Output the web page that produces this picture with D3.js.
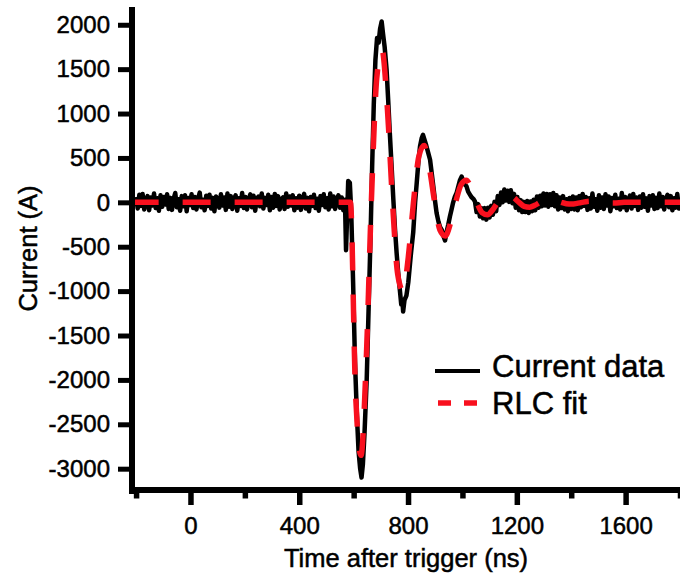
<!DOCTYPE html>
<html>
<head>
<meta charset="utf-8">
<script src="https://cdn.jsdelivr.net/npm/d3@7"></script>
<style>
  body { margin: 0; background: #fff; }
  svg text { font-family: "Liberation Sans", Arial, sans-serif; fill: #000; stroke: #000; stroke-width: 0.5px; }
</style>
</head>
<body>
<div id="chart"></div>
<script>
// baseline noise before the pulse, sampled every 6 ns from -200 ns
const preStart = -200;
const sampleStep = 6;
const preCurrent = [60, -70, 85, -40, 95, -80, 30, 70, -90, 55,
	-35, 100, -65, 45, -95, 80, -50, 60, -25, 90,
	-75, 50, -85, 40, 105, -55, 35, -95, 70, -45,
	80, -100, 50, -30, 90, -65, 60, -80, 40, 110,
	-55, 30, -90, 75, -40, 85, -70, 50, -100, 65,
	25, -60, 90, -35, 55, -85, 100, -50, 70, -75,
	35, 80, -95, 45, -40, 105, -65, 60, -80, 30,
	90, -55, 75, -95, 40, 65, -45, 100, -70, 50,
	-30, 85, -90, 60, -60, 95, -40, 70, -80, 35,
	55, -75, 100, -50, 65, -35, 80, -90, 45, -60,
	75, -85, 30, 95, -70, 50, -100, 60, -40, 85,
	-65, 40, -95, 70, -30, 90, -55, 45, -80, 100,
	-45, 65, -75, 35, 80, -60, 55, -90];

// the pulse itself (ns, A)
const pulseTime = [568, 572, 576, 580, 586, 591, 598, 605, 612, 618, 624, 629, 634, 640, 648, 655, 662, 668, 674, 680,
	686, 692, 697, 703, 708, 714, 721, 727, 733, 740, 746, 752, 758, 764, 770, 775, 779, 782, 787, 794,
	801, 810, 819, 826, 832, 838, 844, 850, 855, 861, 867, 874, 881, 887, 893, 899, 905, 912, 918, 924,
	930, 936, 942, 948, 954, 960, 966, 972, 979, 985, 991, 997, 1003, 1009, 1015, 1021, 1027, 1033, 1040];
const pulseCurrent = [30, -540, -150, 240, 220, -100, -900, -1800, -2400, -2800, -3000, -3100, -2950, -2600, -2000, -1200, -400, 400, 1100, 1600,
	1850, 1800, 1950, 2037, 1900, 1750, 1500, 1150, 780, 380, 30, -300, -570, -800, -990, -1150, -1100, -1230, -1100, -1050,
	-900, -600, -340, 0, 220, 450, 630, 720, 760, 700, 640, 560, 480, 330, 180, 20, -120, -220, -280, -310,
	-380, -430, -330, -250, -160, -80, 0, 60, 110, 180, 250, 290, 240, 200, 180, 120, 90, 60, 40];

// ringing tail + noise after the pulse, every 6 ns from 1046 ns
const postStart = 1046;
const postCurrent = [10, -110, -20, -160, -65, -180, -65, -195, -60, -170,
	-40, -140, 5, -100, 70, -30, 110, 0, 145, 20,
	130, 5, 135, -10, 95, -60, 60, -90, 25, -110,
	5, -110, 15, -120, 10, -100, 30, -90, 65, -60,
	75, -45, 100, -35, 95, -50, 90, -30, 105, -45,
	80, -80, 55, -65, 70, -80, 35, -100, 50, -75,
	65, -80, 55, -90, 70, -55, 95, -40, 60, -85,
	45, -70, 100, -50, 35, -95, 80, -60, 55, -75,
	90, -35, 65, -100, 50, -45, 85, -65, 40, -80,
	105, -55, 60, -90, 30, 75, -70, 95, -40, 55,
	-85, 65, -60, 90, -50, 45, -95, 70, -35, 80,
	-75, 50, -65, 100, -45, 60, -80, 35, 85, -55,
	70, -90, 45, -60, 95, -70, 50];

// RLC fit (ns, A)
const fitTime = [-220, 585, 588, 607, 627, 646, 665, 685, 704, 724, 743, 762, 782, 801, 820, 840, 859, 878, 898, 917,
	937, 956, 975, 995, 1014, 1033, 1053, 1072, 1092, 1111, 1130, 1150, 1169, 1188, 1208, 1227, 1247, 1266, 1285, 1305,
	1324, 1343, 1363, 1382, 1402, 1421, 1440, 1460, 1479, 1498, 1518, 1557, 1595, 1820];
const fitCurrent = [0, 0, 0, -2150, -2850, -1800, 0, 1400, 1720, 1060, 0, -810, -1000, -615, 0, 520, 640, 395, 0, -310,
	-380, -235, 0, 200, 250, 155, 0, -115, -140, -85, 0, 72, 90, 55, 0, -45, -55, -34, 0, 28,
	35, 21, 0, -16, -20, -12, 0, 10, 12, 7, 0, -7, 0, 0];

const xMajor = [0, 400, 800, 1200, 1600];
const xMinor = [-200, 200, 600, 1000, 1400, 1800];
const yTicks = [2000, 1500, 1000, 500, 0, -500, -1000, -1500, -2000, -2500, -3000];

const legendLabels = ['Current data', 'RLC fit'];

const width = 680;
const height = 586;
const font = '"Liberation Sans", Arial, sans-serif';

const x = d3.scaleLinear().domain([-215, 1800]).range([132, 680]);
const y = d3.scaleLinear().domain([-3240, 2200]).range([490, 7]);

// put the three pieces of the measured trace together
const trace = [];
preCurrent.forEach((v, i) => trace.push([preStart + i * sampleStep, v]));
pulseTime.forEach((t, i) => trace.push([t, pulseCurrent[i]]));
postCurrent.forEach((v, i) => trace.push([postStart + i * sampleStep, v]));

const fit = fitTime.map((t, i) => [t, fitCurrent[i]]);

const svg = d3.select('#chart').append('svg')
	.attr('width', width)
	.attr('height', height)
	.style('background', '#fff');

svg.append('clipPath').attr('id', 'plot-clip')
	.append('rect')
	.attr('x', 134).attr('y', 0)
	.attr('width', width - 134).attr('height', 488);

const plot = svg.append('g').attr('clip-path', 'url(#plot-clip)');

const line = d3.line().x((d) => x(d[0])).y((d) => y(d[1]));

plot.append('path')
	.datum(trace)
	.attr('fill', 'none')
	.attr('stroke', '#000')
	.attr('stroke-width', 4.5)
	.attr('stroke-linejoin', 'round')
	.attr('d', line);

plot.append('path')
	.datum(fit)
	.attr('fill', 'none')
	.attr('stroke', '#f8101e')
	.attr('stroke-width', 5.5)
	.attr('stroke-dasharray', '28,24')
	.attr('d', line.curve(d3.curveMonotoneX));

const plain = (d) => String(d);

// y axis
const yAxis = svg.append('g')
	.attr('transform', `translate(${x(-215)},0)`)
	.call(d3.axisLeft(y).tickValues(yTicks).tickFormat(plain).tickSize(14).tickPadding(8).tickSizeOuter(0));
yAxis.select('.domain').attr('stroke-width', 6).attr('d', `M0,${y(2200)}V${y(-3240) + 4}`);
yAxis.selectAll('.tick line').attr('stroke-width', 5);
yAxis.selectAll('.tick text')
	.style('font-family', font)
	.style('font-size', '24px');

// x axis, major ticks with labels and minor ticks without
const xAxis = svg.append('g')
	.attr('transform', `translate(0,${y(-3240)})`)
	.call(d3.axisBottom(x).tickValues(xMajor).tickFormat(plain).tickSize(15).tickPadding(12).tickSizeOuter(0));
xAxis.select('.domain').attr('stroke-width', 6).attr('d', `M${x(-215) - 3},0H${width}`);
xAxis.selectAll('.tick line').attr('stroke-width', 5.5);
xAxis.selectAll('.tick text')
	.style('font-family', font)
	.style('font-size', '24px');

svg.append('g')
	.attr('transform', `translate(0,${y(-3240)})`)
	.call(d3.axisBottom(x).tickValues(xMinor).tickSize(8.5).tickFormat('').tickSizeOuter(0))
	.call((g) => g.select('.domain').remove())
	.selectAll('.tick line')
	.attr('stroke-width', 5.5);

// axis titles
svg.append('text')
	.attr('x', (x(-215) + width) / 2)
	.attr('y', 567)
	.attr('text-anchor', 'middle')
	.style('font-size', '25.5px')
	.text('Time after trigger (ns)');

svg.append('text')
	.attr('transform', `translate(37,${(y(2200) + y(-3240)) / 2}) rotate(-90)`)
	.attr('text-anchor', 'middle')
	.style('font-size', '25.5px')
	.text('Current (A)');

// legend
const legend = svg.append('g').attr('transform', 'translate(435,371)');
legend.append('line')
	.attr('x1', 0).attr('x2', 45)
	.attr('stroke', '#000').attr('stroke-width', 4);
legend.append('line')
	.attr('x1', 3).attr('x2', 43)
	.attr('y1', 32).attr('y2', 32)
	.attr('stroke', '#f8101e').attr('stroke-width', 5.5)
	.attr('stroke-dasharray', '13,13');
legend.selectAll('text.label')
	.data(legendLabels)
	.join('text')
	.attr('class', 'label')
	.attr('x', 57)
	.attr('y', (d, i) => i * 37 - 5)
	.attr('dy', '0.35em')
	.style('font-size', '31px')
	.text((d) => d);
</script>
</body>
</html>
